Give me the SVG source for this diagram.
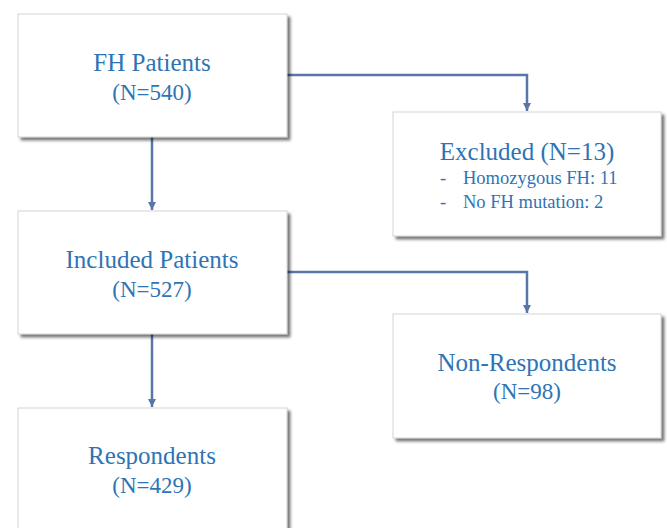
<svg xmlns="http://www.w3.org/2000/svg" width="667" height="528" viewBox="0 0 667 528">
<style>
.box{fill:#fff;stroke:#c8c8c8;stroke-width:0.8;filter:url(#sh)}
.t{font-family:"Liberation Serif","Times New Roman",serif;fill:#2e74b5;text-anchor:middle}
.l1{font-size:25px}
.l2{font-size:23px}
.s{font-size:18.5px;text-anchor:start}
.c{fill:none;stroke:#5a76a8;stroke-width:2.5;marker-end:url(#ah)}
</style>
<defs>
<filter id="sh" x="-5%" y="-5%" width="115%" height="115%">
<feGaussianBlur in="SourceAlpha" stdDeviation="1.6"/>
<feOffset dx="2.5" dy="2.5" result="b"/>
<feComponentTransfer><feFuncA type="linear" slope="0.55"/></feComponentTransfer>
<feMerge><feMergeNode/><feMergeNode in="SourceGraphic"/></feMerge>
</filter>
<marker id="ah" viewBox="0 0 10 10" refX="10" refY="5" markerWidth="3.4" markerHeight="3.4" orient="auto" markerUnits="strokeWidth">
<path d="M0,0 L10,5 L0,10 z" fill="#5a76a8"/>
</marker>
</defs>
<g id="connectors">
<path class="c" d="M287,75 H527 V111"/>
<path class="c" d="M152,137 V210"/>
<path class="c" d="M287,272 H527 V313"/>
<path class="c" d="M152,334 V407"/>
</g>
<g id="fh-patients">
<rect class="box" x="18" y="14" width="269" height="123"/>
<text class="t l1" x="152" y="71">FH Patients</text>
<text class="t l2" x="152" y="100">(N=540)</text>
</g>
<g id="excluded">
<rect class="box" x="393" y="112" width="268" height="124"/>
<text class="t l1" x="527" y="160">Excluded (N=13)</text>
<text class="t s" x="440" y="184">-</text>
<text class="t s" x="463" y="184">Homozygous FH: 11</text>
<text class="t s" x="440" y="208">-</text>
<text class="t s" x="463" y="208">No FH mutation: 2</text>
</g>
<g id="included">
<rect class="box" x="18" y="211" width="269" height="123"/>
<text class="t l1" x="152" y="268">Included Patients</text>
<text class="t l2" x="152" y="297">(N=527)</text>
</g>
<g id="non-respondents">
<rect class="box" x="393" y="314" width="268" height="124"/>
<text class="t l1" x="527" y="371">Non-Respondents</text>
<text class="t l2" x="527" y="399">(N=98)</text>
</g>
<g id="respondents">
<rect class="box" x="18" y="408" width="269" height="130"/>
<text class="t l1" x="152" y="464">Respondents</text>
<text class="t l2" x="152" y="493">(N=429)</text>
</g>
</svg>
